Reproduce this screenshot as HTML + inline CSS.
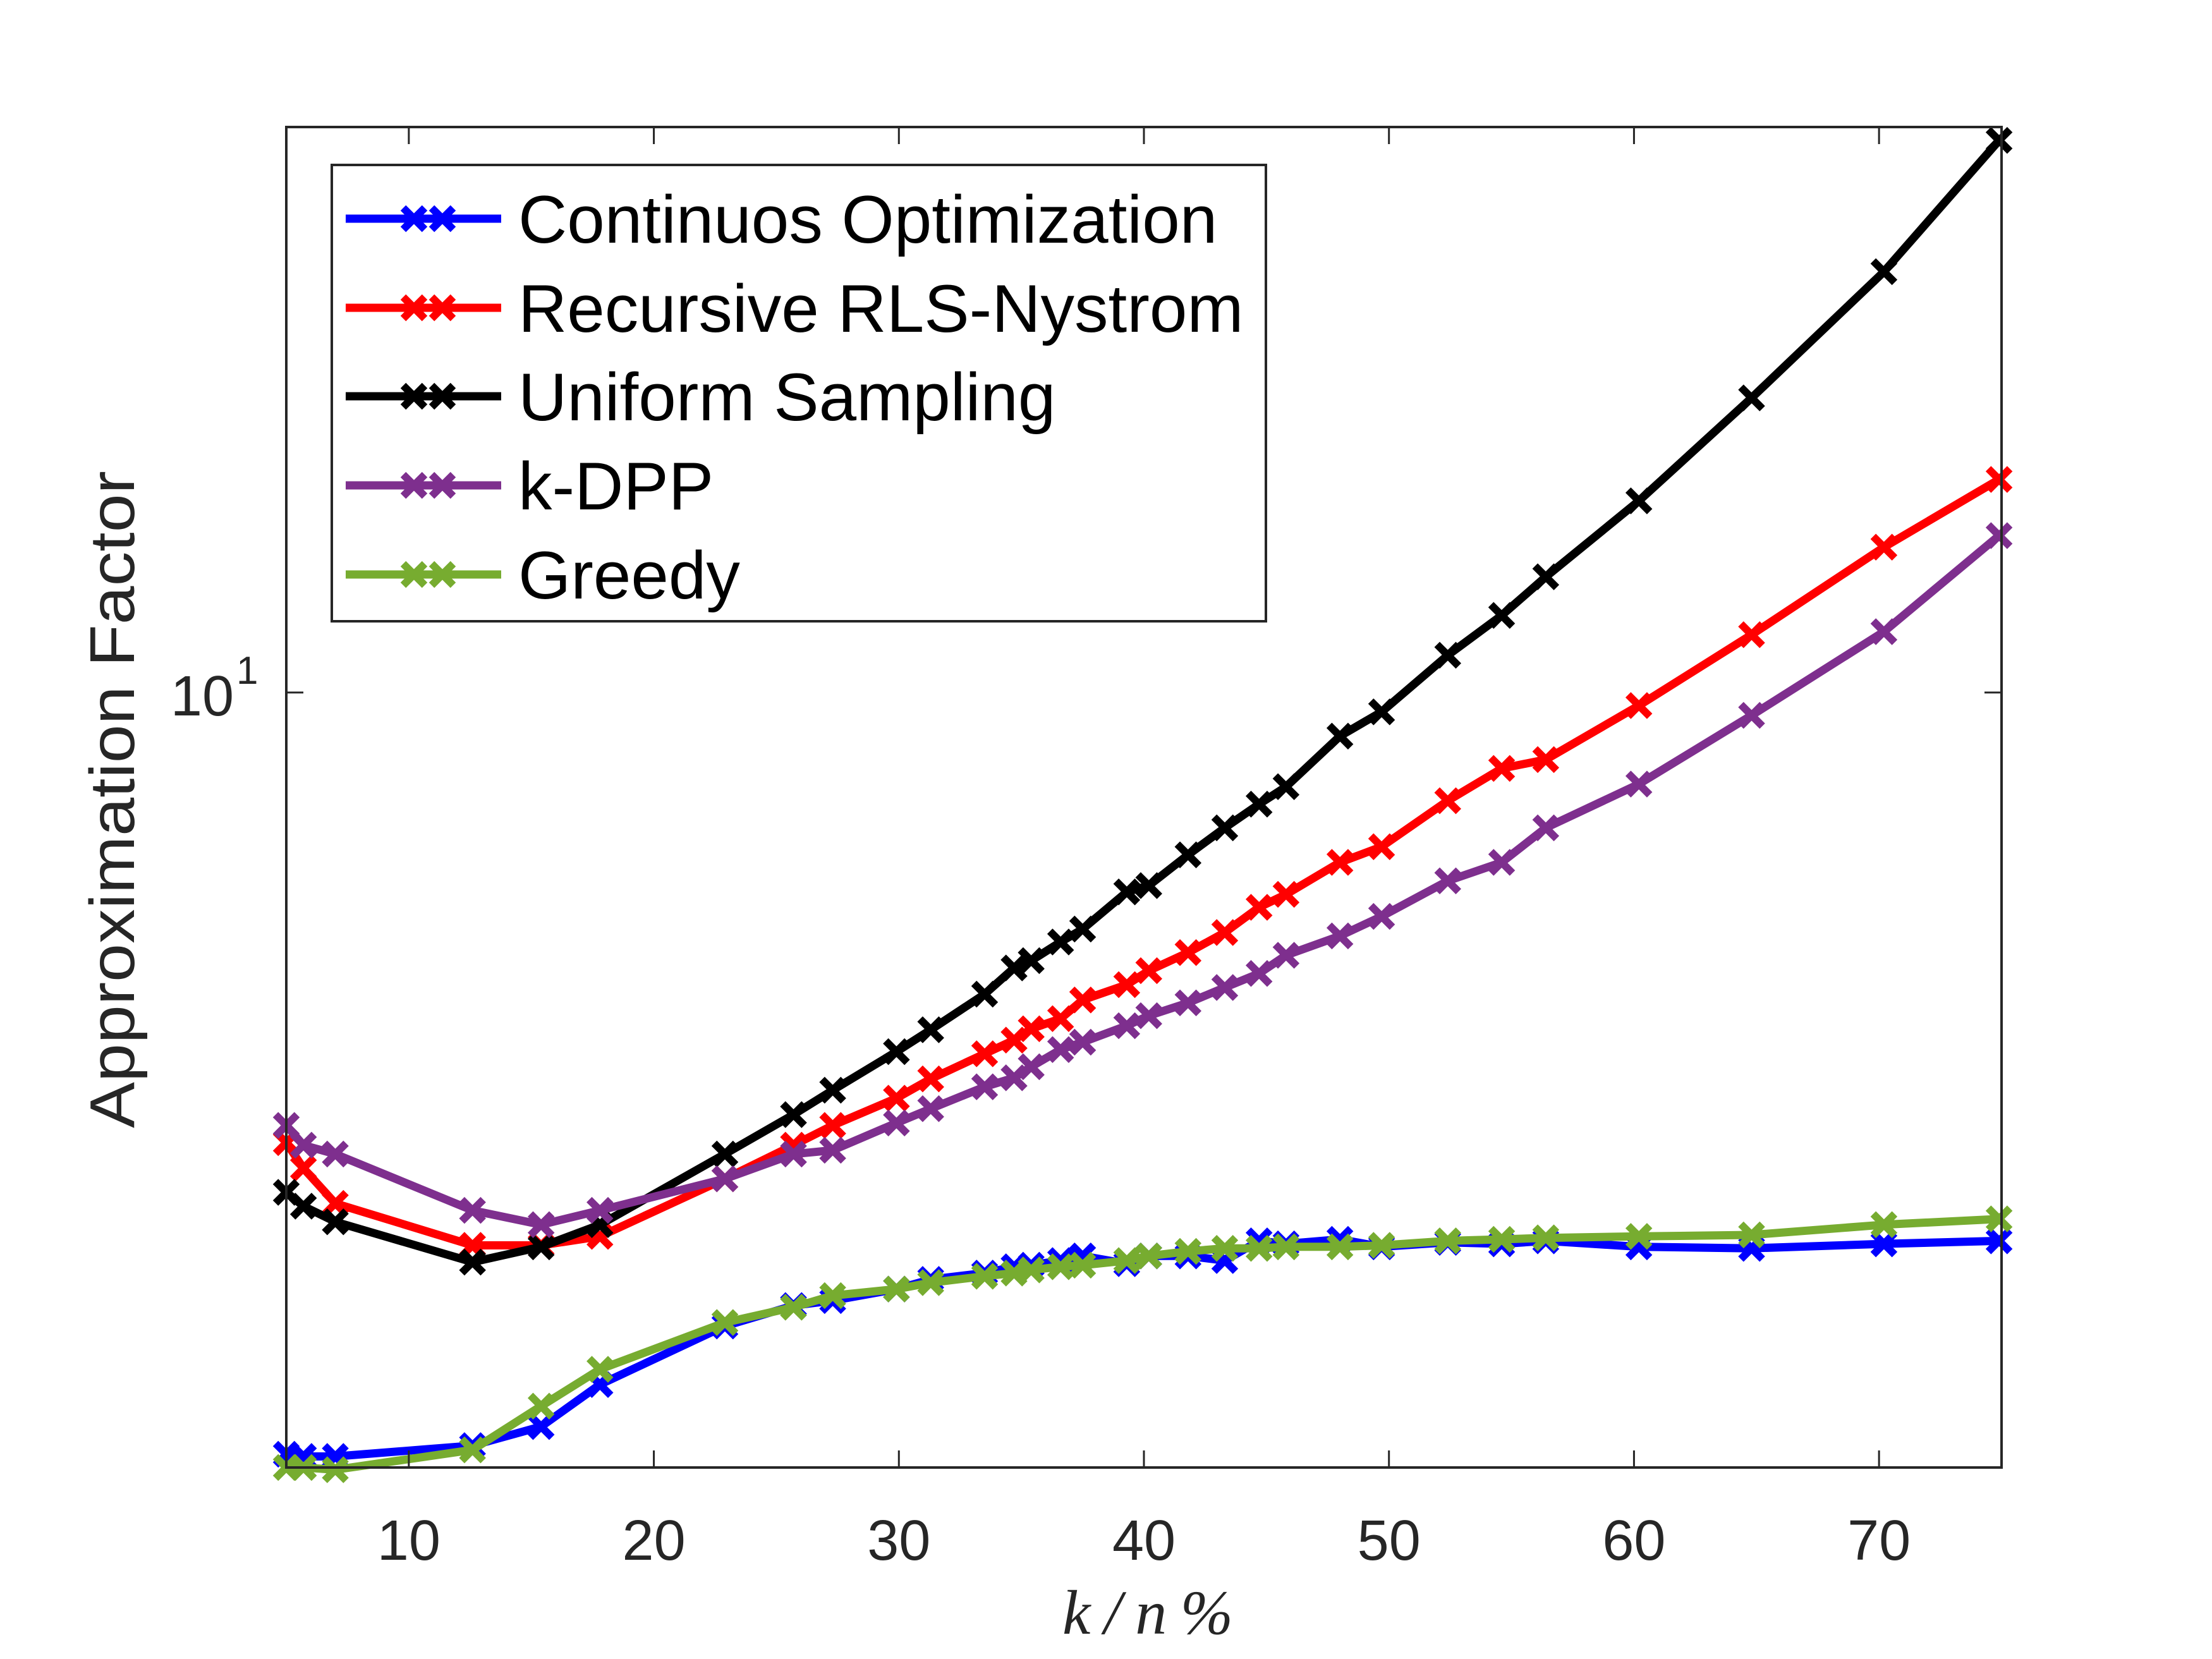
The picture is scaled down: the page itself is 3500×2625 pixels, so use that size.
<!DOCTYPE html>
<html><head><meta charset="utf-8"><style>
html,body{margin:0;padding:0;background:#fff;}
svg{display:block;}
</style></head><body>
<svg id="chart" width="3500" height="2625" viewBox="0 0 3500 2625" xmlns="http://www.w3.org/2000/svg">
<rect x="0" y="0" width="3500" height="2625" fill="#fff"/>
<g id="plot"></g>
<g id="axes"></g>
<g id="legend"></g>
</svg>
<script>
const xValues = [5.0,5.7,7.0,12.6,15.4,17.8,22.9,25.7,27.3,29.9,31.3,33.5,34.7,35.4,36.6,37.5,39.3,40.2,41.8,43.3,44.7,45.8,48.0,49.7,52.4,54.6,56.4,60.2,64.8,70.2,74.9];
const continuousOpt = [2.56,2.55,2.55,2.60,2.69,2.90,3.22,3.34,3.37,3.44,3.50,3.54,3.58,3.59,3.62,3.65,3.60,3.65,3.65,3.62,3.75,3.73,3.76,3.71,3.74,3.73,3.75,3.71,3.70,3.73,3.75];
const recursiveRLS = [4.47,4.27,4.01,3.72,3.72,3.78,4.19,4.45,4.61,4.84,5.01,5.24,5.37,5.48,5.58,5.77,5.93,6.08,6.28,6.51,6.81,6.97,7.38,7.59,8.24,8.73,8.87,9.77,11.09,12.97,14.64];
const uniformSampling = [4.09,3.99,3.88,3.61,3.71,3.86,4.38,4.70,4.91,5.26,5.47,5.83,6.11,6.19,6.40,6.55,7.00,7.08,7.48,7.85,8.19,8.45,9.25,9.66,10.69,11.48,12.30,14.09,16.94,21.23,26.85];
const kDPP = [4.61,4.45,4.38,3.96,3.86,3.96,4.19,4.38,4.41,4.63,4.75,4.94,5.02,5.12,5.28,5.35,5.51,5.61,5.74,5.90,6.05,6.25,6.47,6.70,7.14,7.38,7.85,8.49,9.60,11.15,13.24];
const greedy = [2.50,2.50,2.49,2.58,2.79,2.98,3.24,3.33,3.40,3.44,3.48,3.52,3.54,3.56,3.58,3.59,3.62,3.65,3.68,3.70,3.70,3.71,3.71,3.72,3.75,3.76,3.77,3.78,3.79,3.86,3.90];
const seriesNames = ["Continuos Optimization","Recursive RLS-Nystrom","Uniform Sampling","k-DPP","Greedy"];
const xTicks = [10,20,30,40,50,60,70];
const yTicks = [10];

const NS = "http://www.w3.org/2000/svg";
const L = 453, R = 3167, T = 201, B = 2322;
const xMin = 5, xMax = 75, yMin = 2.5, yMax = 27.5;
function xs(v){ return L + (v - xMin) / (xMax - xMin) * (R - L); }
function ys(v){ return B - (Math.log10(v) - Math.log10(yMin)) / (Math.log10(yMax) - Math.log10(yMin)) * (B - T); }
function mk(tag, attrs, parent){ const e = document.createElementNS(NS, tag); for (const k in attrs) e.setAttribute(k, attrs[k]); parent.appendChild(e); return e; }

const plot = document.getElementById('plot');
const axes = document.getElementById('axes');
const legend = document.getElementById('legend');

const series = [
  {vals: continuousOpt, color: '#0000FF', key: 'continuous-optimization'},
  {vals: recursiveRLS, color: '#FF0000', key: 'recursive-rls-nystrom'},
  {vals: uniformSampling, color: '#000000', key: 'uniform-sampling'},
  {vals: kDPP, color: '#7E2F8E', key: 'k-dpp'},
  {vals: greedy, color: '#77AC30', key: 'greedy'}
];

function drawX(g, cx, cy, color, s){
  return mk('path', {d: `M${cx-s},${cy-s}L${cx+s},${cy+s}M${cx-s},${cy+s}L${cx+s},${cy-s}`, stroke: color, 'stroke-width': 12, fill: 'none'}, g);
}

series.forEach(s => {
  const g = mk('g', {}, plot);
  
  
  const pts = xValues.map((x, i) => xs(x).toFixed(1) + ',' + ys(s.vals[i]).toFixed(1)).join(' ');
  const line = mk('polyline', {points: pts, fill: 'none', stroke: s.color, 'stroke-width': 13, 'stroke-linejoin': 'round'}, g);
  
  
  xValues.forEach((x, i) => {
    const m = drawX(g, xs(x), ys(s.vals[i]), s.color, 17);
    
    
  });
});

const box = mk('rect', {x: L, y: T, width: R - L, height: B - T, fill: 'none', stroke: '#262626', 'stroke-width': 4}, axes);


xTicks.forEach(t => {
  const x = xs(t);
  const tk = mk('path', {d: `M${x},${B}V${B-27}M${x},${T}V${T+27}`, stroke: '#262626', 'stroke-width': 3}, axes);
  
  
  const lb = mk('text', {x: x, y: 2468, 'text-anchor': 'middle', 'font-family': 'Liberation Sans, Arial, sans-serif', 'font-size': 90, fill: '#262626'}, axes);
  lb.textContent = t;
  
  
});
yTicks.forEach(t => {
  const y = ys(t);
  const tk = mk('path', {d: `M${L},${y}H${L+27}M${R},${y}H${R-27}`, stroke: '#262626', 'stroke-width': 3}, axes);
  
  
  const lb = mk('text', {x: 370, y: y + 36, 'text-anchor': 'end', 'font-family': 'Liberation Sans, Arial, sans-serif', 'font-size': 90, fill: '#262626'}, axes);
  lb.textContent = '10';
  
  
  const sup = mk('text', {x: 374, y: y - 14, 'font-family': 'Liberation Sans, Arial, sans-serif', 'font-size': 62, fill: '#262626'}, axes);
  sup.textContent = '1';
  
  
});
const yt = mk('text', {x: 0, y: 0, transform: 'translate(212,1265) rotate(-90)', 'text-anchor': 'middle', 'font-family': 'Liberation Sans, Arial, sans-serif', 'font-size': 100, fill: '#262626', textLength: 1040, lengthAdjust: 'spacingAndGlyphs'}, axes);
yt.textContent = 'Approximation Factor';


const xt = mk('text', {x: 1816, y: 2585, 'text-anchor': 'middle', 'font-family': 'Liberation Serif, serif', 'font-style': 'italic', 'font-size': 100, fill: '#262626', textLength: 270, lengthAdjust: 'spacing'}, axes);
xt.textContent = 'k/n%';



const lbox = mk('rect', {x: 525, y: 261, width: 1478, height: 722, fill: '#fff', stroke: '#262626', 'stroke-width': 4}, legend);


const rowY = [346, 487, 627, 768, 909];
series.forEach((s, i) => {
  const g = mk('g', {}, legend);
  
  
  mk('line', {x1: 547, x2: 793, y1: rowY[i], y2: rowY[i], stroke: s.color, 'stroke-width': 13}, g);
  drawX(g, 655, rowY[i], s.color, 17);
  drawX(g, 700, rowY[i], s.color, 17);
  const t = mk('text', {x: 820, y: rowY[i] + 38, 'font-family': 'Liberation Sans, Arial, sans-serif', 'font-size': 107, fill: '#000'}, g);
  t.textContent = seriesNames[i];
  
  
});
</script>
</body></html>
